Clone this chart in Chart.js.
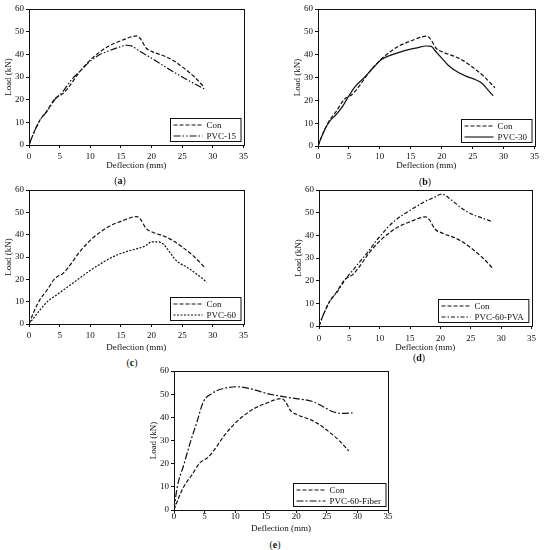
<!DOCTYPE html>
<html>
<head>
<meta charset="utf-8">
<script src="https://cdn.jsdelivr.net/npm/chart.js@4.4.1/dist/chart.umd.min.js"></script>
<style>
  body { margin: 0; background: #fff; }
  #wrap { position: relative; width: 546px; height: 550px; font-family: "Liberation Serif", serif; }
  canvas { position: absolute; }
  .cap { position: absolute; font-size: 10px; color: #111; transform: translate(-50%, -50%); white-space: nowrap; }
</style>
</head>
<body>
<div id="wrap">
  <canvas id="chartA"></canvas>
  <canvas id="chartB"></canvas>
  <canvas id="chartC"></canvas>
  <canvas id="chartD"></canvas>
  <canvas id="chartE"></canvas>
  <div class="cap" style="left:120px;top:180px">(<b>a</b>)</div>
  <div class="cap" style="left:425px;top:181px">(<b>b</b>)</div>
  <div class="cap" style="left:132px;top:362px">(<b>c</b>)</div>
  <div class="cap" style="left:419px;top:357px">(<b>d</b>)</div>
  <div class="cap" style="left:275px;top:544px">(<b>e</b>)</div>
</div>
<script>
// load-deflection curves
var conDeflection = [0, 0.8, 1.8, 2.9, 4.2, 5.6, 6.6, 8.3, 10.2, 11.8, 13.1, 15.3, 16.8, 17.6, 18.2, 19.1, 20.1, 22.3, 23.4, 25.0, 27.0, 28.6];
var conLoad = [0, 5.5, 11, 15, 20.3, 22.8, 26, 32.4, 38, 41.5, 43.8, 46.3, 47.8, 48.1, 46.8, 42.8, 41.2, 39, 37.5, 34.5, 30, 25.5];

var pvc15Deflection = [0, 0.8, 1.8, 3, 4.2, 5.5, 7, 8.5, 10, 11.5, 13, 14.5, 16, 16.8, 18, 20, 22.5, 25, 27, 28.9];
var pvc15Load = [0, 5.5, 11, 15, 20, 23.5, 29, 33, 37, 39.8, 41.5, 43, 44, 43.6, 41.5, 38.3, 34, 30, 27, 24.3];

var pvc30Deflection = [0, 0.8, 1.8, 3, 4, 5, 6, 7.5, 9, 10.2, 12, 14, 16, 17.5, 18.3, 19, 20, 21, 22.5, 24, 25.5, 26.5, 27.5, 28.3];
var pvc30Load = [0, 5.5, 10.5, 14, 17.5, 22, 26, 30, 34.5, 37.8, 40, 41.8, 43, 43.8, 43.6, 41.5, 38.5, 35.5, 32.5, 30.5, 29, 27.5, 24.5, 22];

var pvc60Deflection = [0, 1, 2, 3, 4.5, 6, 8, 10, 12, 14, 16, 18, 19, 20, 21, 22, 23, 24, 26, 28, 29];
var pvc60Load = [0, 3.5, 7, 10, 13, 16, 20, 24, 27.5, 30.5, 32.5, 34, 35, 36.8, 36.8, 35.5, 32, 28.5, 25, 21, 18.7];

var pvaDeflection = [0, 0.8, 1.8, 3, 4.2, 6, 8, 10, 12.5, 15, 17.5, 19, 20.2, 21.8, 23.5, 25.1, 26.7, 28.6];
var pvaLoad = [0, 5.5, 11, 15, 20, 26, 32.5, 39.5, 46.5, 51, 55, 56.8, 58.2, 55.6, 51.9, 49.4, 47.8, 46];

var fiberDeflection = [0, 0.5, 1.6, 2.7, 3.75, 4.8, 6.2, 7.6, 10.3, 12.4, 15.2, 17.9, 20, 22.8, 24.4, 26, 27.7, 29.2];
var fiberLoad = [0, 9.5, 19.5, 29.5, 38, 46.7, 50.3, 52.1, 53.2, 52.4, 50.3, 48.9, 48.1, 46.7, 44.6, 42.4, 41.7, 41.9];

var xTicks = [0, 5, 10, 15, 20, 25, 30, 35];
var yTicks = [0, 10, 20, 30, 40, 50, 60];

var ink = "#111";
var serif = '"Liberation Serif", "Times New Roman", serif';

function pts(xs, ys) {
	return xs.map(function (x, i) { return { x: x, y: ys[i] }; });
}

function series(label, xs, ys, dash) {
	return {
		label: label,
		data: pts(xs, ys),
		borderColor: ink,
		borderWidth: 1.2,
		borderDash: dash,
		pointRadius: 0,
		fill: false,
		cubicInterpolationMode: "monotone",
	};
}

// frame round the plot + boxed legend in the lower right
var framePlugin = {
	id: "frameLegend",
	afterDraw: function (chart) {
		var c = chart.ctx, a = chart.chartArea;
		c.save();
		c.strokeStyle = ink;
		c.lineWidth = 1;
		c.setLineDash([]);
		c.strokeRect(Math.round(a.left) + 0.5, Math.round(a.top) + 0.5, Math.round(a.right - a.left), Math.round(a.bottom - a.top));

		c.font = "9px " + serif;
		var ds = chart.data.datasets;
		var tw = 0;
		ds.forEach(function (d) { tw = Math.max(tw, c.measureText(d.label).width); });
		var w = 36 + tw + 5, h = 23;
		var x = Math.round(a.right - 3 - w) + 0.5, y = Math.round(a.bottom - 4 - h) + 0.5;
		c.fillStyle = "#fff";
		c.fillRect(x, y, w, h);
		c.strokeRect(x, y, w, h);
		ds.forEach(function (d, i) {
			var ly = y + 6.5 + 11 * i;
			c.beginPath();
			c.setLineDash(d.borderDash || []);
			c.lineWidth = 1.1;
			c.moveTo(x + 3, ly);
			c.lineTo(x + 32, ly);
			c.stroke();
			c.setLineDash([]);
			c.fillStyle = ink;
			c.textBaseline = "middle";
			c.fillText(d.label, x + 36, ly + 0.5);
		});
		c.restore();
	},
};

function makeChart(id, box, datasets) {
	var cv = document.getElementById(id);
	var left = box.L - 29, top = box.T - 9;
	cv.width = box.R - box.L + 29 + 6;
	cv.height = box.B - box.T + 9 + box.xh;
	cv.style.left = left + "px";
	cv.style.top = top + "px";
	var font = { family: serif, size: 9 };
	new Chart(cv.getContext("2d"), {
		type: "line",
		data: { datasets: datasets },
		options: {
			responsive: false,
			animation: false,
			layout: { padding: { left: 0, top: 9, right: 6, bottom: 0 } },
			plugins: { legend: { display: false }, tooltip: { enabled: false } },
			scales: {
				x: {
					type: "linear",
					min: 0,
					max: 35,
					afterBuildTicks: function (s) { s.ticks = xTicks.map(function (v) { return { value: v }; }); },
					ticks: { font: font, color: ink, padding: box.tp, maxRotation: 0 },
					grid: { drawOnChartArea: false, drawTicks: true, tickLength: 3, color: ink },
					border: { color: ink },
					title: { display: true, text: "Deflection (mm)", font: font, color: ink, padding: { top: 1, bottom: 0 } },
					afterFit: function (s) { s.height = box.xh; },
				},
				y: {
					min: 0,
					max: 60,
					afterBuildTicks: function (s) { s.ticks = yTicks.map(function (v) { return { value: v }; }); },
					ticks: { font: font, color: ink, padding: 2 },
					grid: { drawOnChartArea: false, drawTicks: true, tickLength: 3, color: ink },
					border: { color: ink },
					title: { display: true, text: "Load (kN)", font: font, color: ink, padding: { top: 3, bottom: 0 } },
					afterFit: function (s) { s.width = 29; },
				},
			},
		},
		plugins: [framePlugin],
	});
}

var conDash = [4, 2];

makeChart("chartA", { L: 29, R: 245, T: 9, B: 145, xh: 26, tp: 3 }, [
	series("Con", conDeflection, conLoad, conDash),
	series("PVC-15", pvc15Deflection, pvc15Load, [7, 2, 1.5, 2, 1.5, 2]),
]);
makeChart("chartB", { L: 318, R: 535, T: 9, B: 146, xh: 25, tp: 2 }, [
	series("Con", conDeflection, conLoad, conDash),
	series("PVC-30", pvc30Deflection, pvc30Load, []),
]);
makeChart("chartC", { L: 29, R: 245, T: 190, B: 324, xh: 29, tp: 3 }, [
	series("Con", conDeflection, conLoad, conDash),
	series("PVC-60", pvc60Deflection, pvc60Load, [2, 1.5]),
]);
makeChart("chartD", { L: 319, R: 534, T: 190, B: 326, xh: 27, tp: 4 }, [
	series("Con", conDeflection, conLoad, conDash),
	series("PVC-60-PVA", pvaDeflection, pvaLoad, [4, 2, 1.5, 2]),
]);
makeChart("chartE", { L: 174, R: 388, T: 371, B: 510, xh: 24, tp: -2 }, [
	series("Con", conDeflection, conLoad, conDash),
	series("PVC-60-Fiber", fiberDeflection, fiberLoad, [7, 2, 2, 2]),
]);
</script>
</body>
</html>
